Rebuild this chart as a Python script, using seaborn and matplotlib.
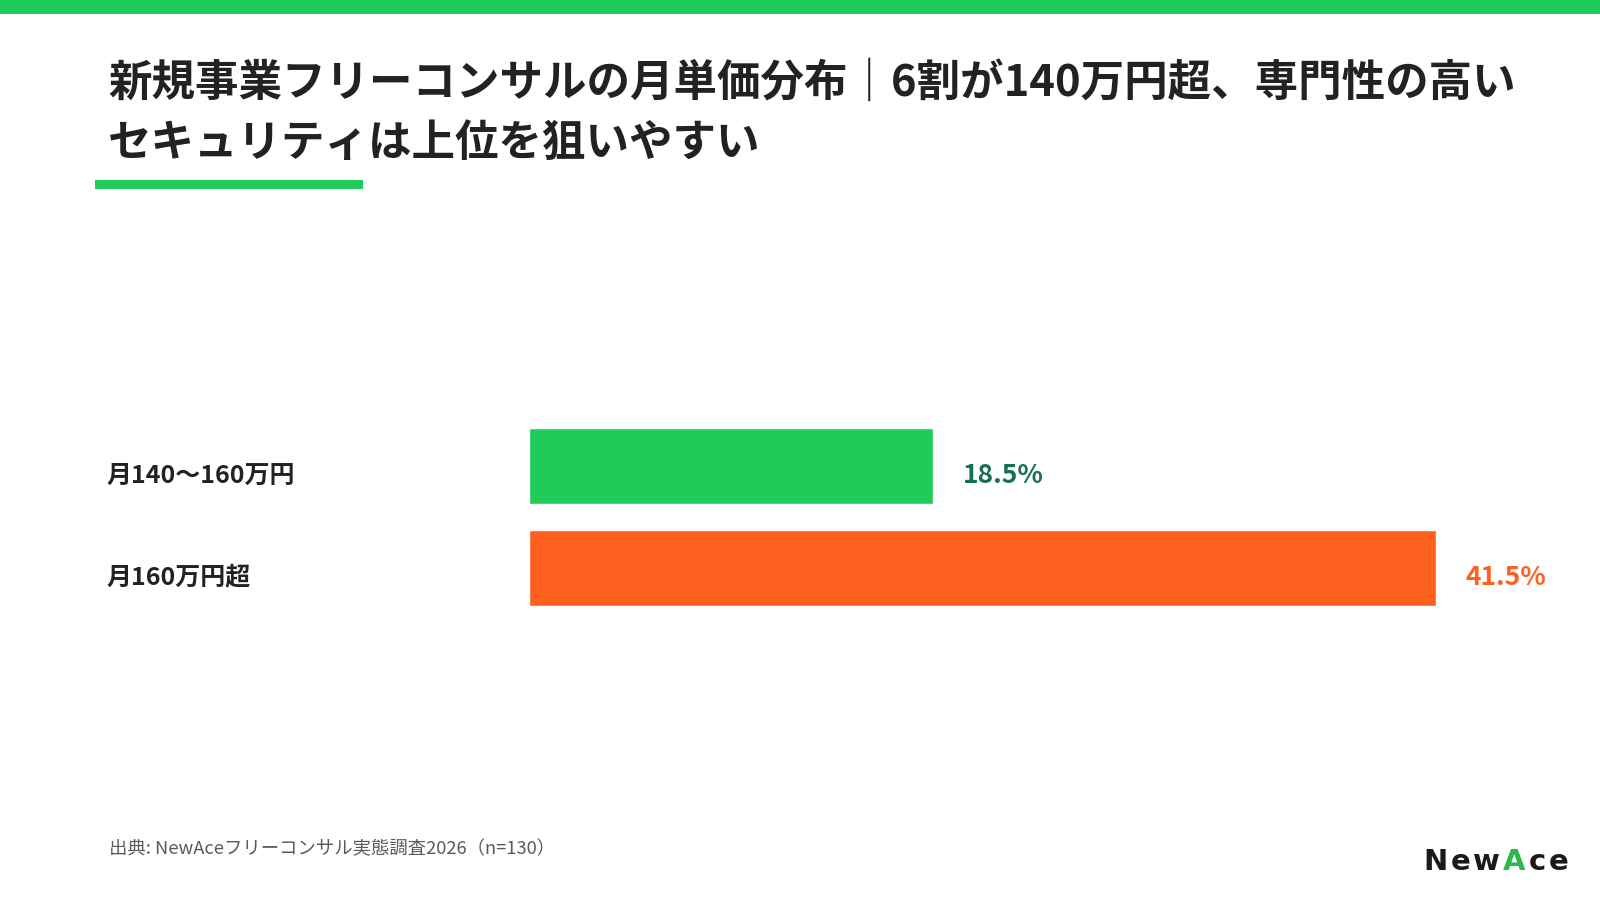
import matplotlib
matplotlib.use('Agg')
import matplotlib.pyplot as plt
import matplotlib.transforms as mtransforms
from matplotlib.patches import Rectangle
import pandas as pd
import seaborn as sns

# data
categories = ['月140〜160万円', '月160万円超']
shares = [18.5, 41.5]
bar_colors = ['#1FCC5A', '#FF601F']
value_colors = ['#17704F', '#FF601F']

title_line1 = '新規事業フリーコンサルの月単価分布｜6割が140万円超、専門性の高い'
title_line2 = 'セキュリティは上位を狙いやすい'
source_note = '出典: NewAceフリーコンサル実態調査2026（n=130）'
logo_parts = [('N', '#1A1A1A'), ('e', '#1A1A1A'), ('w', '#1A1A1A'),
              ('A', '#2DB84A'), ('c', '#1A1A1A'), ('e', '#1A1A1A')]

sns.set_theme(style='white')
plt.rcParams['font.family'] = ['Noto Sans CJK JP', 'DejaVu Sans']

W, H = 1600, 903
fig = plt.figure(figsize=(16, 9.03), dpi=100)
fig.patch.set_facecolor('white')

# top band and title underline
fig.add_artist(Rectangle((0, 1 - 15 / H), 1, 15 / H, transform=fig.transFigure,
                         color='#1FCC5A', lw=0))
fig.add_artist(Rectangle((95 / W, 1 - 190 / H), 268 / W, 9 / H, transform=fig.transFigure,
                         color='#1FCC5A', lw=0))

fig.text(108 / W, 1 - 83 / H, title_line1, fontsize=31.3, fontweight='bold',
         color='#222222', va='center', ha='left')
fig.text(108 / W, 1 - 143 / H, title_line2, fontsize=31.3, fontweight='bold',
         color='#222222', va='center', ha='left')

# bar axes
ax = fig.add_axes([529 / W, 1 - 722 / H, 1000 / W, 408 / H])
df = pd.DataFrame({'category': categories, 'share': shares})
sns.barplot(data=df, x='share', y='category', hue='category', palette=bar_colors,
            width=0.74, legend=False, ax=ax, saturation=1)
ax.set_xlim(0, 1000 / 21.86)
ax.set_ylim(2.5, -1.5)
ax.set_axis_off()

lab_tr = mtransforms.blended_transform_factory(fig.transFigure, ax.transData)
for i, (cat, v) in enumerate(zip(categories, shares)):
    ax.annotate(cat, xy=(106 / W, i), xycoords=lab_tr, xytext=(0, -6),
                textcoords='offset points', fontsize=18, fontweight='bold',
                color='#222222', va='center', ha='left', annotation_clip=False)
    ax.annotate(f'{v}%', xy=(v, i), xytext=(21, -6), textcoords='offset points',
                fontsize=19, fontweight='bold', color=value_colors[i],
                va='center', ha='left', annotation_clip=False)

fig.text(109 / W, 1 - 849 / H, source_note, fontsize=13.2, color='#5A5A5A',
         va='center', ha='left')

# logo, letter by letter with a little tracking
prev = fig.text(1423 / W, 1 - 876 / H, logo_parts[0][0], fontsize=21, fontweight='bold',
                family='DejaVu Sans', color=logo_parts[0][1], va='bottom', ha='left')
for ch, col in logo_parts[1:]:
    prev = ax.annotate(ch, xy=(1, 0), xycoords=prev, xytext=(2.2, 0),
                       textcoords='offset points', fontsize=21, fontweight='bold',
                       family='DejaVu Sans', color=col, va='bottom', ha='left',
                       annotation_clip=False)

fig.savefig('out.png', dpi=100, facecolor='white')
